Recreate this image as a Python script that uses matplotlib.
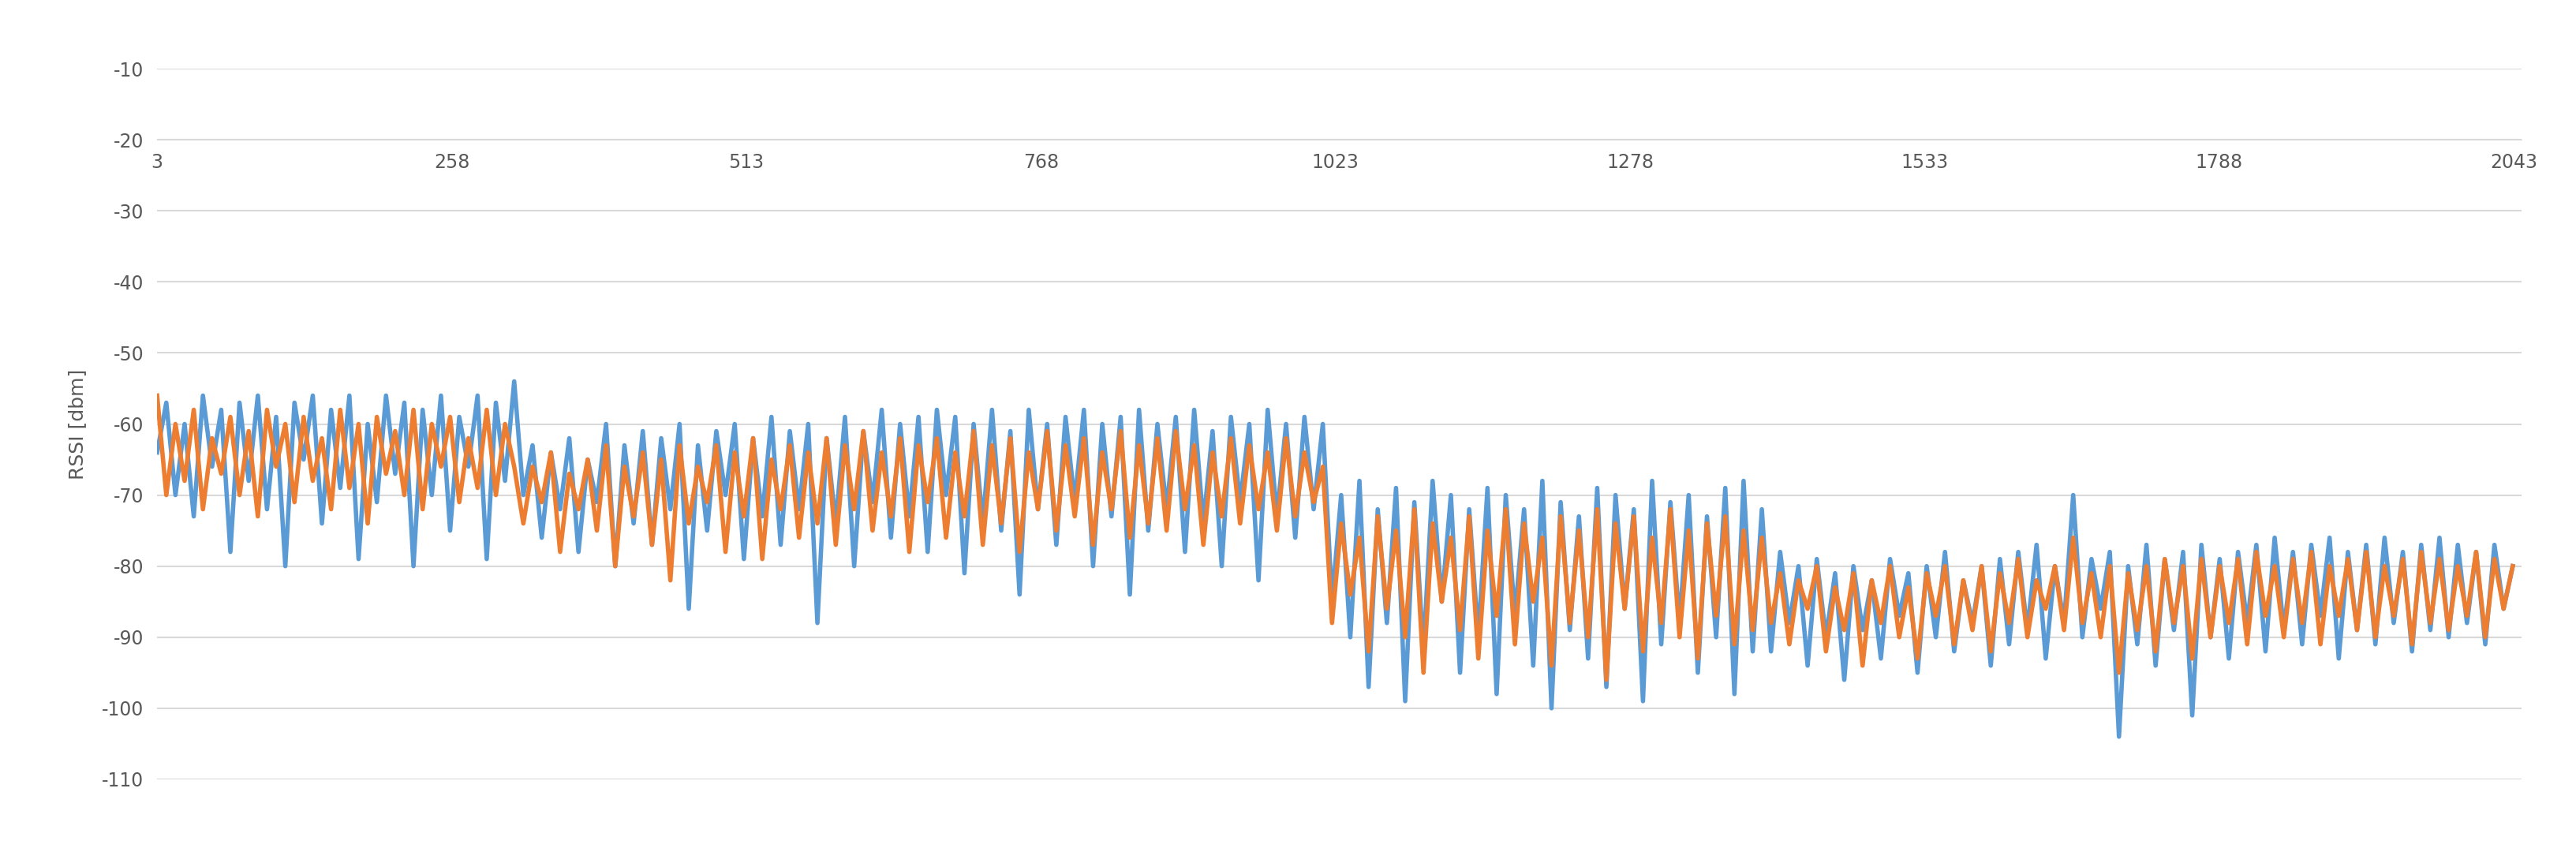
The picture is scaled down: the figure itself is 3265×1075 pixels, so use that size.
import numpy as np
import matplotlib.pyplot as plt

plt.rcParams['axes.unicode_minus'] = False

# peak/trough values, one list per plateau, left to right
seg_edges = [3, 320, 1020, 1400, 2050]

blue_segs = [
    [-64, -57, -70, -60, -73, -56, -66, -58, -78, -57, -68, -56, -72, -59, -80, -57, -65, -56, -74, -58,
     -69, -56, -79, -60, -71, -56, -67, -57, -80, -58, -70, -56, -75, -59, -66, -56, -79, -57, -68, -54],
    [-70, -63, -76, -64, -72, -62, -78, -65, -71, -60, -80, -63, -74, -61, -77, -62, -72, -60, -86, -63,
     -75, -61, -70, -60, -79, -62, -73, -59, -77, -61, -72, -60, -88, -62, -74, -59, -80, -61, -71, -58,
     -76, -60, -73, -59, -78, -58, -70, -59, -81, -60, -74, -58, -75, -61, -84, -58, -72, -60, -77, -59,
     -71, -58, -80, -60, -73, -59, -84, -58, -75, -60, -72, -59, -78, -58, -74, -61, -80, -59, -71, -60,
     -82, -58, -73, -60, -76, -59, -72, -60],
    [-85, -70, -90, -68, -97, -72, -88, -69, -99, -71, -92, -68, -85, -70, -95, -72, -90, -69, -98, -70,
     -87, -72, -94, -68, -100, -71, -89, -73, -93, -69, -97, -70, -86, -72, -99, -68, -91, -71, -88, -70,
     -95, -73, -90, -69, -98, -68, -92, -72],
    [-92, -78, -88, -80, -94, -79, -90, -81, -96, -80, -89, -82, -93, -79, -87, -81, -95, -80, -90, -78,
     -92, -82, -88, -80, -94, -79, -91, -78, -89, -77, -93, -80, -88, -70, -90, -79, -86, -78, -104, -80,
     -91, -77, -94, -79, -89, -78, -101, -77, -90, -79, -93, -78, -88, -77, -92, -76, -89, -78, -91, -77,
     -87, -76, -93, -78, -89, -77, -91, -76, -88, -78, -92, -77, -89, -76, -90, -77, -88, -78, -91, -77,
     -86, -80],
]
orange_segs = [
    [-56, -70, -60, -68, -58, -72, -62, -67, -59, -70, -61, -73, -58, -66, -60, -71, -59, -68, -62, -72,
     -58, -69, -60, -74, -59, -67, -61, -70, -58, -72, -60, -66, -59, -71, -62, -69, -58, -70, -60, -66],
    [-74, -66, -71, -64, -78, -67, -72, -65, -75, -63, -80, -66, -73, -64, -77, -65, -82, -63, -74, -66,
     -71, -63, -78, -64, -73, -62, -79, -65, -72, -63, -76, -64, -74, -62, -77, -63, -72, -61, -75, -64,
     -73, -62, -78, -63, -71, -62, -76, -64, -73, -61, -77, -63, -74, -62, -78, -64, -72, -61, -75, -63,
     -73, -62, -77, -64, -72, -61, -76, -63, -74, -62, -75, -61, -72, -63, -77, -64, -73, -62, -74, -63,
     -72, -64, -75, -62, -73, -64, -71, -66],
    [-88, -74, -84, -76, -92, -73, -86, -75, -90, -72, -95, -74, -85, -76, -89, -73, -93, -75, -87, -72,
     -91, -74, -85, -76, -94, -73, -88, -75, -90, -72, -96, -74, -86, -73, -92, -76, -88, -72, -90, -75,
     -93, -74, -87, -73, -91, -75, -89, -76],
    [-88, -81, -91, -82, -86, -80, -92, -83, -89, -81, -94, -82, -88, -80, -90, -83, -93, -81, -87, -80,
     -91, -82, -89, -80, -92, -81, -88, -79, -90, -82, -86, -80, -89, -76, -88, -81, -90, -80, -95, -81,
     -89, -80, -92, -79, -88, -80, -93, -79, -90, -80, -88, -79, -91, -78, -87, -80, -90, -79, -88, -78,
     -91, -80, -87, -79, -89, -78, -90, -80, -87, -79, -91, -78, -88, -79, -89, -80, -87, -78, -90, -79,
     -86, -80],
]
xticks = [3, 258, 513, 768, 1023, 1278, 1533, 1788, 2043]
yticks = [-10, -20, -30, -40, -50, -60, -70, -80, -90, -100, -110]


def series(segs):
    xs, ys = [], []
    for i, seg in enumerate(segs):
        xs.append(np.linspace(seg_edges[i], seg_edges[i + 1], len(seg), endpoint=False))
        ys.extend(seg)
    return np.concatenate(xs), ys


fig = plt.figure(figsize=(32.65, 10.75), dpi=100)
ax = fig.add_axes([0.061, 0.081, 0.918, 0.838])
bx, by = series(blue_segs)
ox, oy = series(orange_segs)
ax.plot(bx, by, color='#5B9BD5', lw=4)
ax.plot(ox, oy, color='#ED7D31', lw=4)

ax.set_xlim(3, 2050)
ax.set_ylim(-110, -10)
ax.set_yticks(yticks)
ax.set_xticks(xticks)
ax.grid(axis='y', color='#D9D9D9', lw=1.5)
ax.set_axisbelow(True)
for s in ['top', 'right', 'left']:
    ax.spines[s].set_visible(False)
ax.spines['bottom'].set_position(('data', -20))
ax.spines['bottom'].set_color('#D9D9D9')
ax.tick_params(length=0, labelsize=17, colors='#595959', pad=12)
ax.set_ylabel('RSSI [dbm]', fontsize=18, color='#595959', labelpad=14)

fig.savefig('out.png')
